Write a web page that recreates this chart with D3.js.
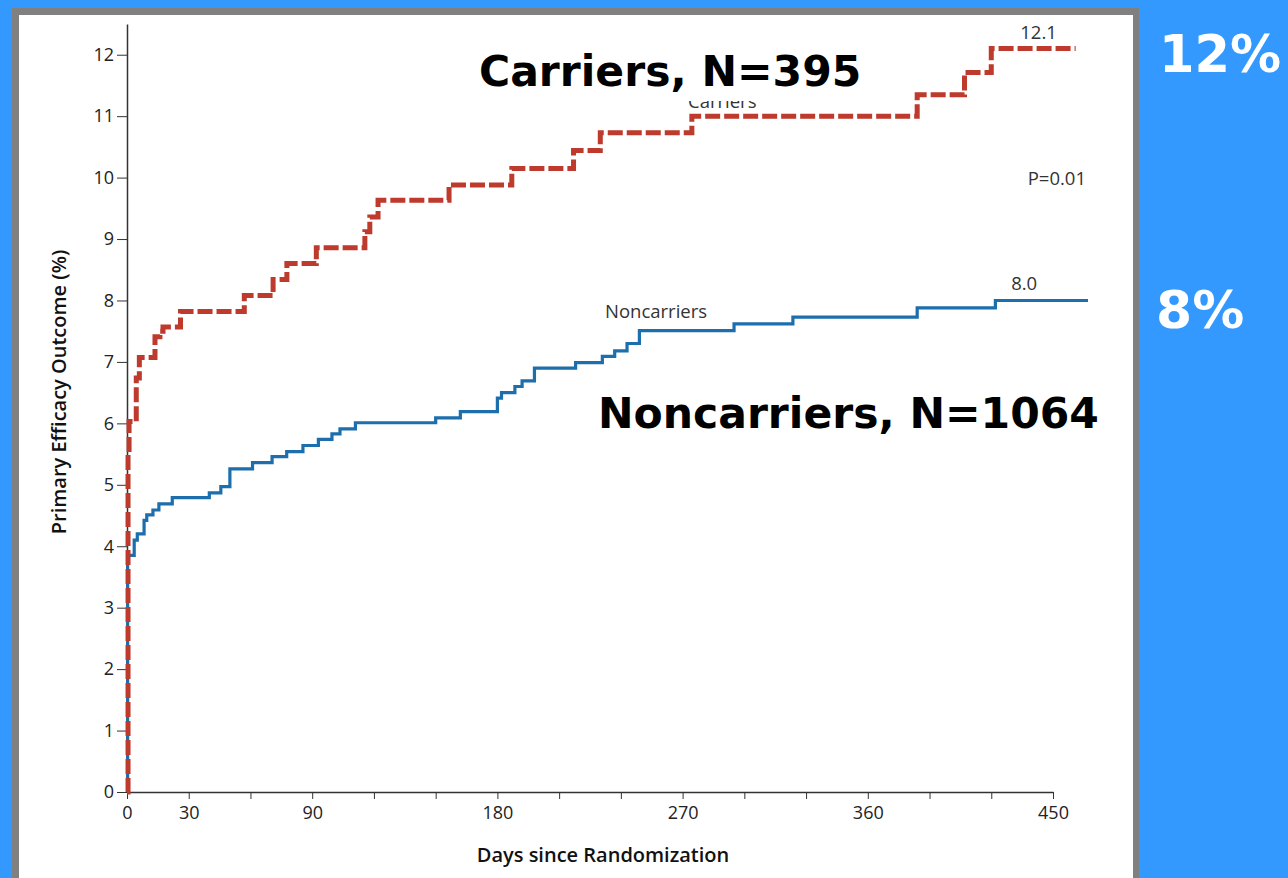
<!DOCTYPE html>
<html>
<head>
<meta charset="utf-8">
<script src="https://cdn.jsdelivr.net/npm/d3@7"></script>
<style>
  body { margin: 0; background: #3399ff; }
  svg { display: block; }
</style>
</head>
<body>
<svg id="chart"></svg>
<script>
// step points: [day, cumulative %]
var carrierDays   = [0, 0.5, 1, 4.5, 6, 13.6, 16, 17.5, 26, 57, 71, 77.7, 92, 115.6, 118, 122, 156.5, 187, 217, 230, 274.5, 384, 407, 420, 461]
var carrierValues = [0, 5.5, 6.03, 6.74, 7.07, 7.41, 7.5, 7.57, 7.82, 8.08, 8.34, 8.6, 8.86, 9.12, 9.36, 9.63, 9.88, 10.15, 10.44, 10.73, 11.0, 11.35, 11.71, 12.1, 12.1]

var noncarrierDays   = [0, 0.3, 3.5, 5, 8.3, 9.6, 12.6, 15.5, 22, 40, 45.6, 50, 61, 70.5, 77.6, 85.5, 93, 99.6, 103.5, 111, 150, 162, 180, 182, 188.5, 192, 198, 218, 231, 237, 243, 249, 295, 323.6, 384, 422, 467]
var noncarrierValues = [0, 3.85, 4.1, 4.2, 4.42, 4.51, 4.59, 4.69, 4.79, 4.87, 4.97, 5.26, 5.36, 5.46, 5.54, 5.64, 5.74, 5.83, 5.91, 6.01, 6.09, 6.19, 6.41, 6.5, 6.6, 6.69, 6.9, 6.99, 7.09, 7.18, 7.3, 7.51, 7.62, 7.73, 7.88, 8.0, 8.0]

var xTicks = [0, 30, 60, 90, 120, 150, 180, 210, 240, 270, 300, 330, 360, 390, 420, 450]
var xTickLabels = [0, 30, 90, 180, 270, 360, 450]
var yTicks = [0, 1, 2, 3, 4, 5, 6, 7, 8, 9, 10, 11, 12]

var carrierFinal = "12.1"
var noncarrierFinal = "8.0"
var pValue = "P=0.01"

var dimensions = ({
    width: 1288,
    height: 878,
    margin: {
        top: 24,
        bottom: 86,
        right: 235,
        left: 127
    }
})

var svg = d3.select("#chart")
            .attr("width", dimensions.width)
            .attr("height", dimensions.height)

// grey frame + white panel
svg.append("rect")
   .attr("x", 12).attr("y", 8)
   .attr("width", 1127).attr("height", 880)
   .attr("fill", "#808080")
svg.append("rect")
   .attr("x", 19).attr("y", 15)
   .attr("width", 1114).attr("height", 880)
   .attr("fill", "#ffffff")

var xScale = d3.scaleLinear()
               .domain([0, 450])
               .range([dimensions.margin.left, 1053])

var yScale = d3.scaleLinear()
               .domain([0, 12.5])
               .range([dimensions.height - dimensions.margin.bottom, dimensions.margin.top])

var font = "'Open Sans', 'DejaVu Sans', sans-serif"
var bigFont = "'DejaVu Sans', Verdana, sans-serif"

// axes
var xAxis = d3.axisBottom(xScale)
              .tickValues(xTicks)
              .tickSize(7)
              .tickSizeOuter(0)
              .tickFormat(function(d){ return xTickLabels.indexOf(d) >= 0 ? d : "" })
var xg = svg.append("g")
    .attr("transform", "translate(0," + yScale(0) + ")")
    .call(xAxis)
xg.selectAll("text").style("font-family", font).style("font-size", "18px").attr("fill", "#222").attr("y", 14).attr("dy", "0.71em")
xg.selectAll("line").attr("stroke", "#333")
xg.select(".domain").attr("stroke", "#333").attr("stroke-width", 1.5)

var yAxis = d3.axisLeft(yScale)
              .tickValues(yTicks)
              .tickSize(10)
              .tickSizeOuter(0)
var yg = svg.append("g")
    .attr("transform", "translate(" + xScale(0) + ",0)")
    .call(yAxis)
yg.selectAll("text").style("font-family", font).style("font-size", "18px").attr("fill", "#222").attr("x", -13)
yg.selectAll("line").attr("stroke", "#333")
yg.select(".domain").attr("stroke", "#333").attr("stroke-width", 1.5)

// axis titles
svg.append("text")
   .attr("x", 603).attr("y", 862)
   .attr("text-anchor", "middle")
   .style("font-family", font).style("font-size", "20px").style("font-weight", 600)
   .attr("fill", "#111")
   .text("Days since Randomization")

svg.append("text")
   .attr("transform", "translate(66,392) rotate(-90)")
   .attr("text-anchor", "middle")
   .style("font-family", font).style("font-size", "20px").style("font-weight", 600)
   .attr("fill", "#111")
   .text("Primary Efficacy Outcome (%)")

// curves
var line = d3.line()
             .x(function(d){ return xScale(d[0]) })
             .y(function(d){ return yScale(d[1]) })
             .curve(d3.curveStepAfter)

var noncarriers = noncarrierDays.map(function(d, i){ return [d, noncarrierValues[i]] })
var carriers = carrierDays.map(function(d, i){ return [d, carrierValues[i]] })

svg.append("path")
   .datum(noncarriers)
   .attr("d", line)
   .attr("fill", "none")
   .attr("stroke", "#1c6fac")
   .attr("stroke-width", 3.2)

svg.append("path")
   .datum(carriers)
   .attr("d", line)
   .attr("fill", "none")
   .attr("stroke", "#bd3a2c")
   .attr("stroke-width", 5)
   .attr("stroke-dasharray", "15,4")

// small in-chart labels
svg.append("text")
   .attr("x", 605).attr("y", 318)
   .style("font-family", font).style("font-size", "18.5px")
   .attr("fill", "#333")
   .text("Noncarriers")

svg.append("text")
   .attr("x", 688).attr("y", 108)
   .style("font-family", font).style("font-size", "18.5px")
   .attr("fill", "#333")
   .text("Carriers")

svg.append("text")
   .attr("x", xScale(443)).attr("y", yScale(12.1) - 10)
   .attr("text-anchor", "middle")
   .style("font-family", font).style("font-size", "18.5px")
   .attr("fill", "#333")
   .text(carrierFinal)

svg.append("text")
   .attr("x", xScale(436)).attr("y", yScale(8.0) - 10)
   .attr("text-anchor", "middle")
   .style("font-family", font).style("font-size", "18.5px")
   .attr("fill", "#333")
   .text(noncarrierFinal)

svg.append("text")
   .attr("x", 1086).attr("y", 185)
   .attr("text-anchor", "end")
   .style("font-family", font).style("font-size", "18.5px")
   .attr("fill", "#333")
   .text(pValue)

// overlay callouts
svg.append("rect")
   .attr("x", 470).attr("y", 42)
   .attr("width", 402).attr("height", 59)
   .attr("fill", "#ffffff")

svg.append("text")
   .attr("x", 479).attr("y", 86)
   .style("font-family", bigFont).style("font-size", "42.5px").style("font-weight", "bold")
   .attr("fill", "#000")
   .text("Carriers, N=395")

svg.append("text")
   .attr("x", 598).attr("y", 428)
   .style("font-family", bigFont).style("font-size", "42.5px").style("font-weight", "bold")
   .attr("fill", "#000")
   .text("Noncarriers, N=1064")

svg.append("text")
   .attr("x", 1159).attr("y", 72)
   .style("font-family", bigFont).style("font-size", "51px").style("font-weight", "bold")
   .attr("fill", "#fff")
   .text("12%")

svg.append("text")
   .attr("x", 1156).attr("y", 328)
   .style("font-family", bigFont).style("font-size", "52px").style("font-weight", "bold")
   .attr("fill", "#fff")
   .text("8%")
</script>
</body>
</html>
